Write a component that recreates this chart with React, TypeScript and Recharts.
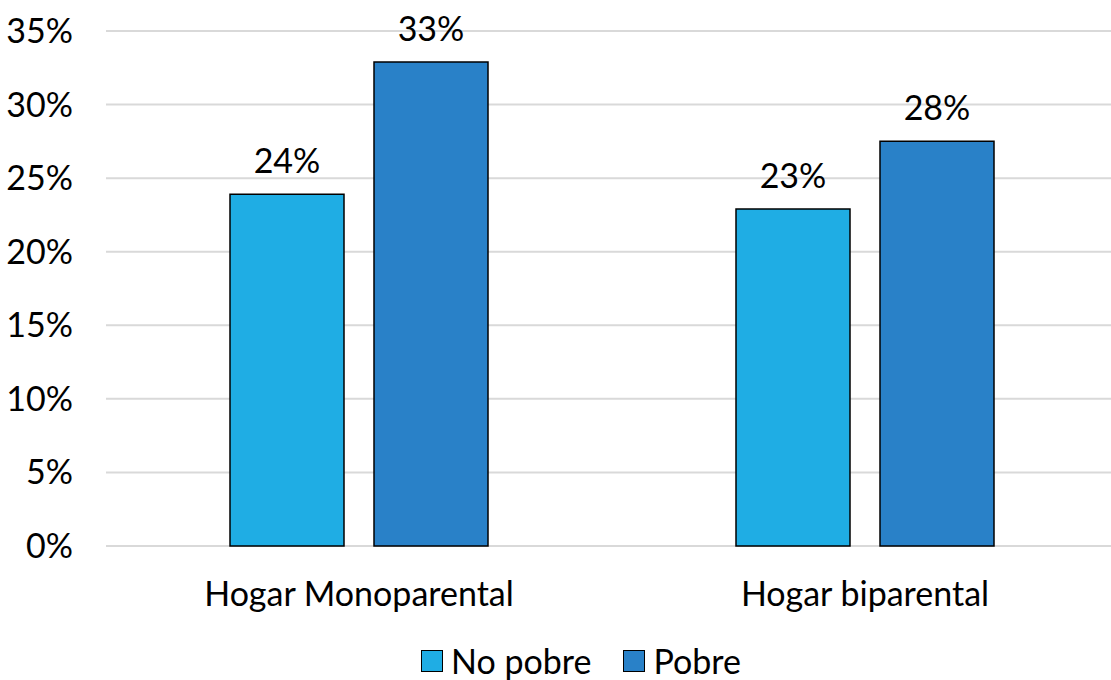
import React from 'react'
import { Bar, BarChart, CartesianGrid, LabelList, Legend, XAxis, YAxis } from 'recharts'

const categorias = ['Hogar Monoparental', 'Hogar biparental']
const noPobre = [23.9, 22.9]
const pobre = [32.9, 27.5]
const ticksY = [0, 5, 10, 15, 20, 25, 30, 35]

const series = [
  { key: 'noPobre', nombre: 'No pobre', color: '#1FADE4' },
  { key: 'pobre', nombre: 'Pobre', color: '#2981C8' }
]

const data = categorias.map((cat, i) => ({ cat, noPobre: noPobre[i], pobre: pobre[i] }))

const FONT = 'Lato, "Open Sans", sans-serif'
const SIZE = 34

function Leyenda() {
  return (
    <div style={{ display: 'flex', justifyContent: 'center', alignItems: 'center', paddingLeft: 44, fontFamily: FONT, fontSize: SIZE, lineHeight: '38px', color: '#000' }}>
      {series.map((s) => (
        <div key={s.key} style={{ display: 'flex', alignItems: 'center', margin: '0 16px' }}>
          <span style={{ width: 20, height: 20, background: s.color, border: '1.5px solid #000', marginRight: 8, display: 'inline-block' }} />
          <span>{s.nombre}</span>
        </div>
      ))}
    </div>
  )
}

export default function App() {
  return (
    <div style={{ position: 'absolute', left: 0, top: 0, background: '#fff' }}>
      <BarChart
        width={1111}
        height={680}
        data={data}
        margin={{ top: 31, right: -7, bottom: 0, left: 0 }}
        barSize={114}
        barGap={30}
      >
        <CartesianGrid vertical={false} stroke="#D9D9D9" strokeWidth={2} />
        <XAxis
          dataKey="cat"
          axisLine={false}
          tickLine={false}
          height={96}
          tickMargin={30}
          tick={{ fontFamily: FONT, fontSize: SIZE, fill: '#000' }}
        />
        <YAxis
          domain={[0, 35]}
          ticks={ticksY}
          width={106}
          axisLine={false}
          tickLine={false}
          tickMargin={27}
          tickFormatter={(v: number) => `${v}%`}
          tick={{ fontFamily: FONT, fontSize: SIZE, fill: '#000' }}
        />
        <Legend verticalAlign="bottom" height={38} content={<Leyenda />} />
        {series.map((s) => (
          <Bar key={s.key} dataKey={s.key} name={s.nombre} fill={s.color} stroke="#000" strokeWidth={1.5} isAnimationActive={false}>
            <LabelList
              dataKey={s.key}
              position="top"
              offset={21}
              formatter={(v: number) => `${Math.round(v)}%`}
              style={{ fontFamily: FONT, fontSize: SIZE, fill: '#000' }}
            />
          </Bar>
        ))}
      </BarChart>
    </div>
  )
}
